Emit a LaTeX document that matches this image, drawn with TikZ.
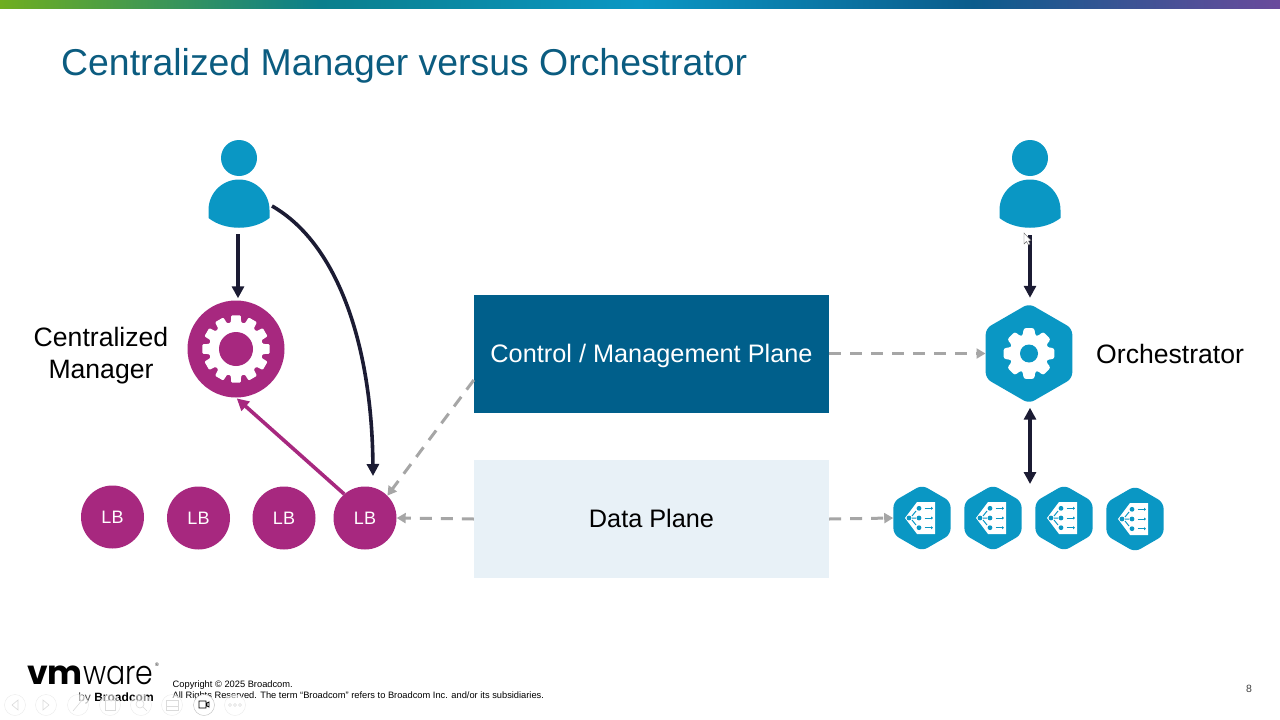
\documentclass[tikz,border=0pt]{standalone}
\usepackage{fontspec}
\usepackage{xcolor}
\usetikzlibrary{arrows.meta, positioning, shapes.geometric, calc}
\setmainfont{Liberation Sans}
\newfontfamily\logofont{Poppins}
\newfontfamily\logofontlt{Poppins Light}
\definecolor{titleblue}{HTML}{0B5C80}
\definecolor{planeblue}{HTML}{005F8B}
\definecolor{planelight}{HTML}{E8F1F7}
\definecolor{iconblue}{HTML}{0A97C4}
\definecolor{lbpurple}{HTML}{A7287F}
\definecolor{ink}{HTML}{1B1B33}
\definecolor{dashgray}{HTML}{A6A6A6}
\definecolor{barA}{HTML}{6FAE1F}
\definecolor{barB}{HTML}{0A7F8C}
\definecolor{barC}{HTML}{0A97C4}
\definecolor{barD}{HTML}{0B5C8C}
\definecolor{barE}{HTML}{6A4A9C}
\pgfdeclarehorizontalshading{topbar}{100bp}{
  color(0bp)=(barA); color(25bp)=(barA); color(37.5bp)=(barB); color(50bp)=(barC);
  color(63bp)=(barD); color(75bp)=(barE); color(100bp)=(barE)}
% person icon, centre of the head given
\newcommand{\personicon}[1]{
  \begin{scope}[shift={(#1)}]
    \fill[iconblue] (0,0) circle[radius=18];
    \fill[iconblue] (-30.5,52) arc[start angle=180, end angle=360, radius=30.5]
      -- (30.5,60) .. controls (14,73) and (-14,73) .. (-30.5,60) -- cycle;
  \end{scope}
}
% toothed wheel: centre, outer radius, root radius, teeth, half widths
\newcommand{\gearicon}[7]{
  \begin{scope}[shift={(#1)}]
    \fill[white, rounded corners=#7] (-#6:#3) \foreach \a in {1,...,#4} {
      -- ({(\a-1)*360/#4-#6}:#3) -- ({(\a-1)*360/#4-#5}:#2)
      -- ({(\a-1)*360/#4+#5}:#2) -- ({(\a-1)*360/#4+#6}:#3)
    } -- cycle;
  \end{scope}
}
% glyph inside a small hexagon
\newcommand{\seicon}[1]{
  \begin{scope}[shift={(#1)}]
    \fill[white] (-17,0) -- (-5,-16) -- (13,-16) -- (13,16) -- (-5,16) -- cycle;
    \draw[iconblue, line width=1pt] (-10,-2) -- (-6,-7) (-10,0) -- (-6,0) (-10,2) -- (-6,7);
    \foreach \y in {-9.7,0,9.7} {
      \fill[iconblue] (-3,\y) circle[radius=2.4];
      \draw[-{Triangle[length=2pt, width=3pt]}, iconblue, line width=1pt] (2.5,\y) -- (11,\y);
    }
    \fill[iconblue] (-13,0) circle[radius=2.4];
  \end{scope}
}
\begin{document}
\begin{tikzpicture}[x=1pt, y=-1pt,
  plane/.style={minimum width=355pt, minimum height=118pt, inner sep=0pt,
                text height=22pt, text depth=5pt, font=\fontsize{25.3}{28}\selectfont},
  lbnode/.style={circle, fill=lbpurple, text=white, minimum size=63pt, inner sep=0pt,
                 font=\fontsize{18}{20}\selectfont},
  hexnode/.style={regular polygon, regular polygon sides=6, shape border rotate=30,
                  fill=iconblue, rounded corners=6pt, inner sep=0pt},
  lbl/.style={font=\fontsize{26.6}{32}\selectfont, align=center},
  arr/.style={-{Triangle[length=12pt, width=12pt]}, line width=3.6pt, color=ink},
  darr/.style={-{Triangle[length=9pt, width=10pt]}, line width=3pt, color=dashgray,
               dash pattern=on 12pt off 9pt},
  toolbtn/.style={circle, draw=black!8, fill=white, fill opacity=.55, minimum size=21pt, inner sep=0pt},
  toolmark/.style={draw=black!14, line width=.6pt},
]
\useasboundingbox (0,0) rectangle (1280,720);
\fill[white] (0,0) rectangle (1280,720);
\shade[shading=topbar] (0,0) rectangle (1280,8);

\node[anchor=west, text=titleblue, font=\fontsize{37.4}{40}\selectfont, inner sep=0pt] (title) at (61,65.5)
  {Centralized Manager versus Orchestrator};

% planes
\node[plane, fill=planeblue, text=white] (cp) at (651.5,353.5) {Control / Management Plane};
\node[plane, fill=planelight, text=black] (dp) at (651.5,519) {Data Plane};

% left side
\node[minimum width=62pt, minimum height=90pt, inner sep=0pt] (userL) at (238,184) {};
\personicon{239,158}
\node[circle, fill=lbpurple, minimum size=97pt, inner sep=0pt] (mgr) at (236,349) {};
\gearicon{236,349}{34}{27}{12}{8}{11}{1pt}
\fill[lbpurple] (236,349) circle[radius=17];
\node[lbl] (mgrlabel) at (101,356) {Centralized\\Manager};
\node[lbnode] (lb1) at (112.5,517) {LB};
\node[lbnode] (lb2) at (198.5,518) {LB};
\node[lbnode] (lb3) at (284,518) {LB};
\node[lbnode] (lb4) at (365,518) {LB};

% right side
\node[minimum width=62pt, minimum height=90pt, inner sep=0pt] (userR) at (1030,184) {};
\personicon{1030,158}
\node[hexnode, minimum size=100pt] (orch) at (1029,353.5) {};
\gearicon{1029,353.5}{26}{19}{8}{12}{19}{2.5pt}
\fill[iconblue] (1029,353.5) circle[radius=9];
\node[lbl, anchor=west, inner sep=0pt] (orchlabel) at (1096,354) {Orchestrator};
\node[hexnode, minimum size=66pt] (hex1) at (922,518) {};
\node[hexnode, minimum size=66pt] (hex2) at (993,518) {};
\node[hexnode, minimum size=66pt] (hex3) at (1064,518) {};
\node[hexnode, minimum size=66pt] (hex4) at (1135,519) {};
\seicon{922,518}
\seicon{993,518}
\seicon{1064,518}
\seicon{1135,519}

% connectors
\coordinate (curvestart) at (272,206);
\coordinate (curveend) at (373,476);
\coordinate (hextop) at (1030,485);
\draw[arr, shorten >=2pt, shorten <=5pt] (userL.south) -- (userL.south |- mgr.north);
\draw[arr] (curvestart) .. controls (340,245) and (372,350) .. (curveend);
\draw[-{Triangle[length=12pt, width=12pt]}, line width=3.6pt, lbpurple, shorten >=1pt] (lb4.131) -- (mgr.south);
\draw[arr, shorten >=5.5pt, shorten <=6pt] (userR.south) -- (orch.north -| userR.south);
\draw[{Triangle[length=12pt, width=12pt]}-{Triangle[length=12pt, width=12pt]}, line width=3.6pt, ink, shorten <=4pt, shorten >=1pt]
  (orch.south -| hextop) -- (hextop);
\draw[darr] (cp.west |- 0,380) -- (lb4.45);
\draw[darr] (dp.west) -- (lb4.east);
\draw[darr] (cp.east) -- (orch.west);
\draw[darr] (dp.east) -- (hex1.west);

% cursor
\fill[white, draw=black!60, line width=.4pt] (1024,233) -- (1024,244) -- (1026.5,241.5) -- (1028.5,245)
  -- (1030,244) -- (1028.5,241) -- (1031,240.5) -- cycle;

% footer
\node[anchor=base west, inner sep=0pt, font=\logofont\bfseries\fontsize{33}{33}\selectfont] (logovm) at (27,684) {vm};
\node[anchor=base west, inner sep=0pt, font=\logofontlt\fontsize{33}{33}\selectfont] (logoware) at (logovm.base east) {\scalebox{.86}[1]{ware}};
\node[inner sep=0pt, font=\fontsize{5}{5}\selectfont] (logoreg) at (157,665) {®};
\node[anchor=base, inner sep=0pt, font=\fontsize{12}{14}\selectfont] (logoby) at (116,701) {{\color{black!70}by} \textbf{Broadcom}};
\node[anchor=base west, inner sep=0pt, font=\fontsize{9.3}{11}\selectfont] (copy1) at (172.5,687.5) {Copyright © 2025 Broadcom.};
\node[anchor=base west, inner sep=0pt, font=\fontsize{9.3}{11}\selectfont] (copy2) at (172.5,698) {All Rights Reserved. The term “Broadcom” refers to Broadcom Inc. and/or its subsidiaries.};
\node[anchor=base, inner sep=0pt, text=black!75, font=\fontsize{10.5}{12}\selectfont] (pagenum) at (1249,692) {8};

% slide show buttons
\foreach \x/\n in {15/a,46/b,78/c,110/d,141/e,172/f,235/h} \node[toolbtn] (btn\n) at (\x,705) {};
\draw[toolmark] (18,700) -- (12,705) -- (18,710) -- cycle;
\draw[toolmark] (43,700) -- (49,705) -- (43,710) -- cycle;
\draw[toolmark] (73,711) -- (83,699);
\draw[toolmark] (105,700) rectangle (115,710);
\draw[toolmark] (140,704) circle[radius=4] (143,707) -- (147,711);
\draw[toolmark] (166,700) rectangle (178,710) (166,706) -- (178,706);
\foreach \x in {230,235,240} \draw[toolmark] (\x,705) circle[radius=1.5];
\node[circle, draw=black!25, fill=white, minimum size=21pt, inner sep=0pt] (btng) at (204,705) {};
\draw[black, line width=.7pt] (199,701) rectangle (206,708) (207,703) -- (209,702) -- (209,707) -- (207,706) -- cycle;
\end{tikzpicture}
\end{document}
